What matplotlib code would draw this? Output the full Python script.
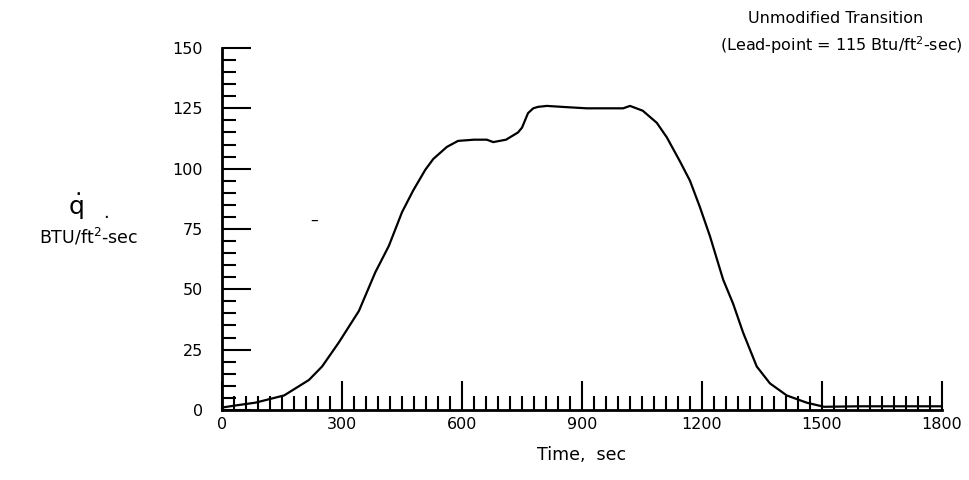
import matplotlib.pyplot as plt
import numpy as np

# heat flux trace
time_s = [0, 40, 83, 155, 217, 250, 292, 342, 383, 417, 450, 478, 508, 528, 562,
          590, 630, 662, 678, 710, 740, 750, 765, 778, 790, 812, 860, 912, 960,
          1003, 1020, 1052, 1087, 1112, 1145, 1170, 1195, 1220, 1253, 1278, 1303,
          1337, 1370, 1412, 1462, 1505, 1595, 1700, 1800]
qdot = [1, 2, 3, 6, 12.4, 18, 28, 41, 57, 68, 82, 91, 99.5, 104, 109,
        111.5, 112, 112, 111, 112, 115, 117, 123, 125, 125.6, 126, 125.5, 125, 125,
        125, 126, 124, 119, 113, 103, 95, 84, 72, 54, 44, 32,
        18, 11, 6, 3, 1.3, 1.5, 1.5, 1.5]

x_major = [0, 300, 600, 900, 1200, 1500, 1800]
y_major = [0, 25, 50, 75, 100, 125, 150]

plt.rcParams['font.family'] = 'DejaVu Sans'

fig = plt.figure(figsize=(9.7, 4.8), dpi=100)
ax = fig.add_axes([0.229, 0.146, 0.742, 0.754])

ax.plot(time_s, qdot, '-', color='black', linewidth=1.6)

ax.set_xlim(0, 1800)
ax.set_ylim(0, 150)

# spines: only left and bottom
for s in ['top', 'right']:
    ax.spines[s].set_visible(False)
for s in ['left', 'bottom']:
    ax.spines[s].set_linewidth(2.0)

ax.set_xticks(x_major)
ax.set_xticks(np.arange(0, 1801, 30), minor=True)
ax.set_yticks(y_major)
ax.set_yticks(np.arange(0, 151, 5), minor=True)

ax.tick_params(which='major', direction='in', length=21, width=1.5,
               labelsize=11.5)
ax.tick_params(which='minor', direction='in', length=10, width=1.5)
ax.tick_params(axis='x', pad=5)
ax.tick_params(axis='y', pad=14)

ax.set_xlabel('Time,  sec', fontsize=12.5, labelpad=10)

# y label, drawn as free text like the original
fig.text(0.078, 0.57, r'$\dot{\rm q}$', fontsize=18, ha='center', va='center')
fig.text(0.109, 0.556, '.', fontsize=13, ha='center', va='center')
fig.text(0.091, 0.506, r'BTU/ft$^2$-sec', fontsize=12.5, ha='center', va='center')
fig.text(0.324, 0.542, '–', fontsize=11, ha='center', va='center')

# annotation at top right
fig.text(0.771, 0.962, 'Unmodified Transition', fontsize=11.5, ha='left', va='center')
fig.text(0.742, 0.905, r'(Lead-point = 115 Btu/ft$^2$-sec)', fontsize=11.5,
         ha='left', va='center')

plt.savefig('out.png', dpi=100)
